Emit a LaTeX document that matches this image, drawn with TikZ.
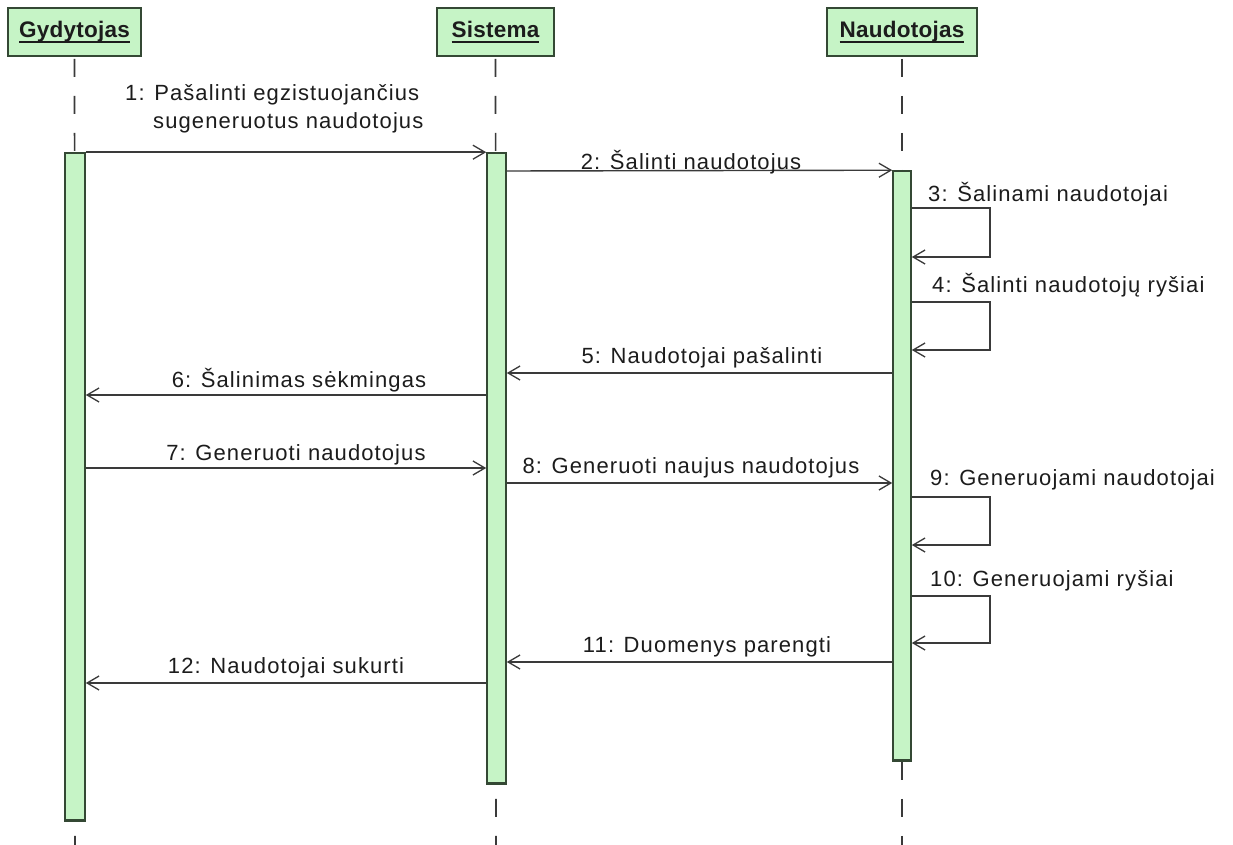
\documentclass[tikz,border=0pt]{standalone}
\usepackage{fontspec}
\setmainfont{Liberation Sans}[LetterSpace=5]
\newfontfamily\headfont{Liberation Sans}[LetterSpace=1]
\usetikzlibrary{arrows.meta}
\definecolor{barfill}{RGB}{198,244,198}
\definecolor{barline}{RGB}{52,72,52}
\definecolor{ink}{RGB}{28,28,28}
\definecolor{wire}{RGB}{58,58,58}
% underlined object name for a lifeline head
\newcommand\objname[1]{\setbox0\hbox{\headfont\bfseries #1}\usebox0\hspace{-\wd0}\rule[-5pt]{\wd0}{1.8pt}}
\tikzset{
  head/.style={draw=barline, line width=1.6pt, fill=barfill, minimum height=48pt, inner sep=0pt,
    font=\fontsize{22.5}{26}\selectfont, text=ink},
  actbar/.style={draw=barline, line width=1.6pt, fill=barfill, inner sep=0pt},
  barfoot/.style={draw=barline, line width=3pt},
  lifeline/.style={draw=wire, line width=1.6pt, dash pattern=on 18pt off 19pt},
  msg/.style={draw=wire, line width=1.4pt, -{Straight Barb[length=12pt,width=14pt,line width=1.3pt]}},
  lbl/.style={font=\fontsize{22}{28}\selectfont, text=ink, inner sep=0pt},
}
\begin{document}
\begin{tikzpicture}[x=1pt,y=-1pt]
\useasboundingbox (0,0) rectangle (1233,845);
\fill[white] (0,0) rectangle (1233,845);

% lifeline heads
\node[head, minimum width=133pt] (g) at (74.5,32) {\objname{Gydytojas}};
\node[head, minimum width=117pt] (s) at (495.5,32) {\objname{Sistema}};
\node[head, minimum width=150pt] (n) at (902,32) {\objname{Naudotojas}};

% dashed lifelines
\coordinate (gend) at (75,845);
\coordinate (send) at (496,845);
\coordinate (nend) at (902,845);
\draw[lifeline] ([yshift=-2pt]g.south) -- (gend);
\draw[lifeline] ([yshift=-2pt]s.south) -- (send);
\draw[lifeline] ([yshift=-2pt]n.south) -- (nend);

% activation bars
\node[actbar, minimum width=20pt, minimum height=667pt] (gb) at (75,486.5) {};
\node[actbar, minimum width=19pt, minimum height=630pt] (sb) at (496.5,468) {};
\node[actbar, minimum width=18pt, minimum height=589pt] (nb) at (902,465.5) {};
\draw[barfoot] (gb.south west) -- (gb.south east);
\draw[barfoot] (sb.south west) -- (sb.south east);
\draw[barfoot] (nb.south west) -- (nb.south east);

% messages
\draw[msg] (gb.north east) -- (sb.north west);
\node[lbl, anchor=west, align=left] (l1) at (125,109) {1: Pašalinti egzistuojančius\\\hspace*{28pt}sugeneruotus naudotojus};

\draw[msg] (sb.east |- 0,171) -- (nb.north west);
\node[lbl] (l2) at (691,162) {2: Šalinti naudotojus};

\draw[msg] (nb.east |- 0,208) -- ++(78,0) |- (nb.east |- 0,257);
\node[lbl, anchor=west] (l3) at (928,194) {3: Šalinami naudotojai};

\draw[msg] (nb.east |- 0,302) -- ++(78,0) |- (nb.east |- 0,350);
\node[lbl, anchor=west] (l4) at (932,285) {4: Šalinti naudotojų ryšiai};

\draw[msg] (nb.west |- 0,373) -- (sb.east |- 0,373);
\node[lbl] (l5) at (702,358) {5: Naudotojai pašalinti};

\draw[msg] (sb.west |- 0,395) -- (gb.east |- 0,395);
\node[lbl] (l6) at (299,380) {6: Šalinimas sėkmingas};

\draw[msg] (gb.east |- 0,468) -- (sb.west |- 0,468);
\node[lbl] (l7) at (296,455) {7: Generuoti naudotojus};

\draw[msg] (sb.east |- 0,483) -- (nb.west |- 0,483);
\node[lbl] (l8) at (691,468) {8: Generuoti naujus naudotojus};

\draw[msg] (nb.east |- 0,497) -- ++(78,0) |- (nb.east |- 0,545);
\node[lbl, anchor=west] (l9) at (930,480) {9: Generuojami naudotojai};

\draw[msg] (nb.east |- 0,596) -- ++(78,0) |- (nb.east |- 0,643);
\node[lbl, anchor=west] (l10) at (930,581) {10: Generuojami ryšiai};

\draw[msg] (nb.west |- 0,662) -- (sb.east |- 0,662);
\node[lbl] (l11) at (707,647) {11: Duomenys parengti};

\draw[msg] (sb.west |- 0,683) -- (gb.east |- 0,683);
\node[lbl] (l12) at (286,668) {12: Naudotojai sukurti};
\end{tikzpicture}
\end{document}
